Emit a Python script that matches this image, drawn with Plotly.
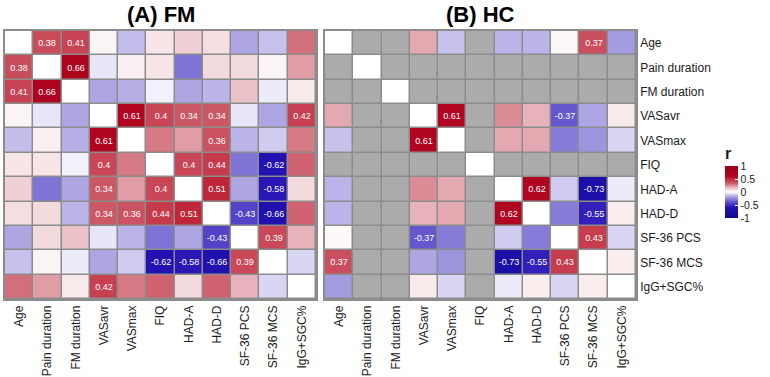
import numpy as np
import plotly.graph_objects as go

variables = ["Age", "Pain duration", "FM duration", "VASavr", "VASmax", "FIQ",
             "HAD-A", "HAD-D", "SF-36 PCS", "SF-36 MCS", "IgG+SGC%"]

# upper-triangle correlations (row i, col j>i); None = not available
fm_upper = {
    (0, 1): 0.38, (0, 2): 0.41, (0, 3): 0.03, (0, 4): -0.13, (0, 5): 0.07, (0, 6): 0.12,
    (0, 7): 0.09, (0, 8): -0.18, (0, 9): -0.12, (0, 10): 0.30,
    (1, 2): 0.66, (1, 3): -0.05, (1, 4): 0.04, (1, 5): 0.07, (1, 6): -0.30, (1, 7): 0.10,
    (1, 8): 0.10, (1, 9): 0.03, (1, 10): 0.22,
    (2, 3): -0.18, (2, 4): -0.16, (2, 5): -0.03, (2, 6): -0.18, (2, 7): -0.15, (2, 8): 0.15,
    (2, 9): -0.04, (2, 10): 0.06,
    (3, 4): 0.61, (3, 5): 0.40, (3, 6): 0.34, (3, 7): 0.34, (3, 8): -0.05, (3, 9): -0.18, (3, 10): 0.42,
    (4, 5): 0.28, (4, 6): 0.22, (4, 7): 0.36, (4, 8): -0.15, (4, 9): -0.10, (4, 10): 0.28,
    (5, 6): 0.40, (5, 7): 0.44, (5, 8): -0.30, (5, 9): -0.62, (5, 10): 0.32,
    (6, 7): 0.51, (6, 8): -0.18, (6, 9): -0.58, (6, 10): 0.10,
    (7, 8): -0.43, (7, 9): -0.66, (7, 10): 0.32,
    (8, 9): 0.39, (8, 10): 0.18,
    (9, 10): -0.08,
}

hc_missing = [1, 2, 5]  # Pain duration, FM duration, FIQ not available in HC
hc_upper = {
    (0, 3): 0.20, (0, 4): -0.12, (0, 6): -0.15, (0, 7): -0.15, (0, 8): 0.02, (0, 9): 0.37, (0, 10): -0.20,
    (3, 4): 0.61, (3, 6): 0.25, (3, 7): 0.18, (3, 8): -0.37, (3, 9): -0.18, (3, 10): 0.06,
    (4, 6): 0.20, (4, 7): 0.20, (4, 8): -0.28, (4, 9): -0.22, (4, 10): -0.08,
    (6, 7): 0.62, (6, 8): -0.10, (6, 9): -0.73, (6, 10): -0.04,
    (7, 8): -0.28, (7, 9): -0.55, (7, 10): 0.05,
    (8, 9): 0.43, (8, 10): -0.08,
    (9, 10): 0.05,
}

sig_threshold = 0.34
n = len(variables)


def build(upper, missing):
    z = np.full((n, n), np.nan)
    na = np.full((n, n), np.nan)
    for i in range(n):
        z[i, i] = 0.0
    for (i, j), v in upper.items():
        z[i, j] = v
        z[j, i] = v
    for m in missing:
        for k in range(n):
            if k != m:
                na[m, k] = 1
                na[k, m] = 1
                z[m, k] = np.nan
                z[k, m] = np.nan
    text = [["" if (np.isnan(z[i, j]) or i == j or abs(z[i, j]) < sig_threshold)
             else f"{z[i, j]:g}" for j in range(n)] for i in range(n)]
    return z, na, text


fm_z, fm_na, fm_text = build(fm_upper, [])
hc_z, hc_na, hc_text = build(hc_upper, hc_missing)

colorscale = [
    [0.00, "#0c0a8c"], [0.20, "#2412b4"], [0.30, "#5a4ccc"], [0.40, "#a49ce0"],
    [0.45, "#d0ccf0"], [0.50, "#ffffff"], [0.55, "#f3dadd"], [0.60, "#e4a8b0"],
    [0.67, "#cc5866"], [0.70, "#c84656"], [0.75, "#c02a3c"], [0.80, "#b20420"],
    [1.00, "#980018"],
]

grid_col = "#8c8c8c"
gap = 1.5

fig = go.Figure()
for z, na, text, xa, ya, show in [(fm_z, fm_na, fm_text, "x", "y", False),
                                  (hc_z, hc_na, hc_text, "x2", "y2", True)]:
    fig.add_trace(go.Heatmap(
        z=z, x=variables, y=variables, text=text, texttemplate="%{text}",
        textfont=dict(color="white", size=9, family="Liberation Sans"),
        colorscale=colorscale, zmin=-1, zmax=1, xgap=gap, ygap=gap,
        xaxis=xa, yaxis=ya, showscale=show,
        colorbar=dict(
            title=dict(text="<b>r</b>", side="top", font=dict(size=16)),
            thickness=13, lenmode="pixels", len=74, x=725 / 770, xanchor="left",
            y=1 - 144 / 377, yanchor="top", outlinewidth=0,
            tickvals=[-1, -0.5, 0, 0.5, 1], ticktext=["-1", "-0.5", "0", "0.5", "1"],
            ticks="inside", ticklen=3, tickcolor="white", tickfont=dict(size=10.5),
            xpad=0, ypad=0,
        ),
    ))
    fig.add_trace(go.Heatmap(
        z=na, x=variables, y=variables, colorscale=[[0, "#ababab"], [1, "#ababab"]],
        showscale=False, xgap=gap, ygap=gap, xaxis=xa, yaxis=ya, hoverinfo="skip",
    ))

W, H = 770, 377
y_dom = [1 - 299 / H, 1 - 31 / H]
axis_common = dict(showgrid=False, zeroline=False, showline=True, mirror=True,
                   linecolor=grid_col, linewidth=1.5, ticks="")

fig.update_layout(
    width=W, height=H, margin=dict(l=0, r=0, t=0, b=0),
    paper_bgcolor="white", plot_bgcolor=grid_col,
    font=dict(family="Liberation Sans, Arial, sans-serif", size=12, color="#1a1a1a"),
    xaxis=dict(domain=[5 / W, 316 / W], anchor="y", tickangle=-90, **axis_common),
    yaxis=dict(domain=y_dom, anchor="x", autorange="reversed", showticklabels=False, **axis_common),
    xaxis2=dict(domain=[325 / W, 636 / W], anchor="y2", tickangle=-90, **axis_common),
    yaxis2=dict(domain=y_dom, anchor="x2", autorange="reversed", side="right", **axis_common),
    annotations=[
        dict(text="<b>(A) FM</b>", x=(5 + 316) / 2 / W, y=1 - 15 / H, xref="paper", yref="paper",
             showarrow=False, font=dict(size=22, color="black"), xanchor="center", yanchor="middle"),
        dict(text="<b>(B) HC</b>", x=(325 + 636) / 2 / W, y=1 - 15 / H, xref="paper", yref="paper",
             showarrow=False, font=dict(size=22, color="black"), xanchor="center", yanchor="middle"),
    ],
)

fig.write_html("out.html")
